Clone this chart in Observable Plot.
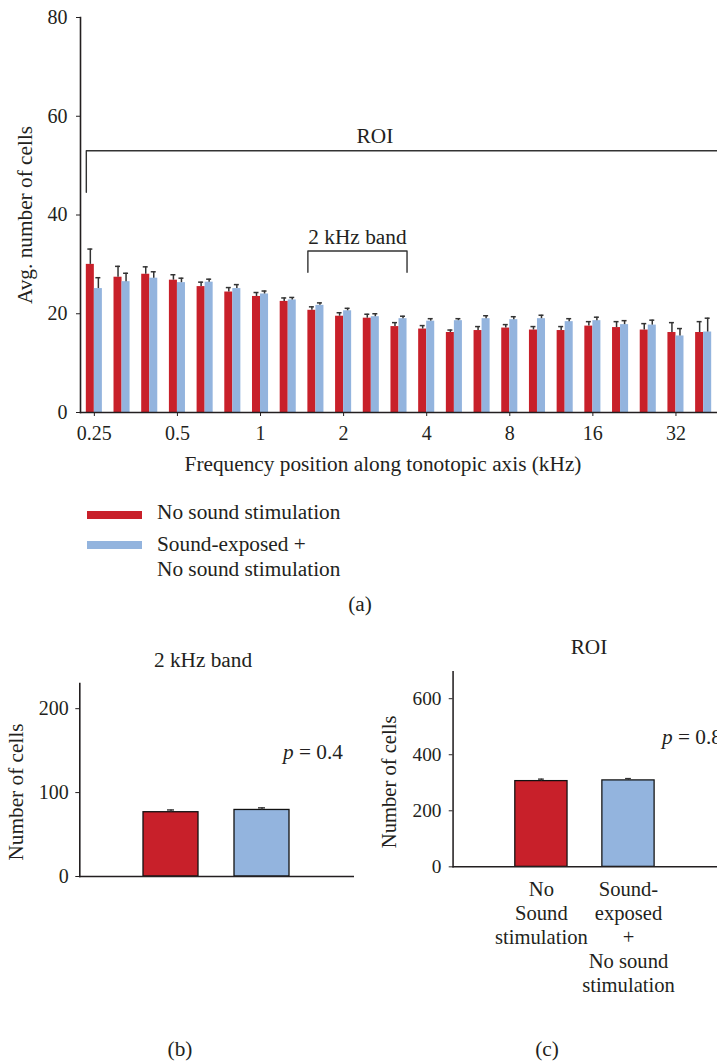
<!DOCTYPE html>
<html><head><meta charset="utf-8">
<script src="https://cdn.jsdelivr.net/npm/d3@7"></script>
<script src="https://cdn.jsdelivr.net/npm/@observablehq/plot@0.6"></script>
<style>
html,body{margin:0;padding:0;overflow:hidden;background:#fff;}
body{width:717px;height:1064px;position:relative;font-family:"Liberation Serif",serif;color:#231f20;}
.t{position:absolute;white-space:nowrap;line-height:1;font-size:21.3px;}
.c{transform:translate(-50%,-50%);}
.l{transform:translate(0,-50%);}
.panel{position:absolute;}
.sw{position:absolute;width:55px;height:8px;transform:translate(0,-50%);}
</style></head><body>
<div id="a" class="panel" style="left:0;top:0"></div>
<div id="b" class="panel" style="left:0;top:640px"></div>
<div id="c" class="panel" style="left:360px;top:630px"></div>
<script>
// ---------- data ----------
const seriesNames = ["No sound stimulation", "Sound-exposed + No sound stimulation"];
const seriesColors = ["#c8202a", "#93b4de"];
// panel (a): 23 positions along the tonotopic axis
const redMean = [30.0,27.4,28.0,26.8,25.5,24.4,23.5,22.5,20.7,19.5,19.1,17.4,16.9,16.2,16.6,17.1,16.7,16.6,17.5,17.2,16.7,16.2,16.2];
const redErr  = [3.1,2.2,1.5,1.1,0.9,0.9,0.8,0.7,0.7,0.7,0.8,0.8,0.7,0.5,0.8,0.7,0.7,0.8,0.9,1.2,1.3,2.0,2.2];
const blueMean = [25.1,26.5,27.2,26.3,26.4,25.1,24.0,22.8,21.7,20.6,19.4,19.0,18.5,18.6,19.0,18.8,19.0,18.4,18.6,17.8,17.7,15.5,16.3];
const blueErr  = [2.2,1.7,1.3,0.9,0.6,0.8,0.6,0.5,0.5,0.5,0.6,0.5,0.5,0.4,0.6,0.6,0.7,0.6,0.7,0.8,1.0,1.5,2.8];
const freqTickIndex = [0,3,6,9,12,15,18,21];
const freqTickLabels = ["0.25","0.5","1","2","4","8","16","32"];
const yTicksA = [0,20,40,60,80];
// brackets (data coordinates: position index, cell count)
const roiBracket = [{x:-0.29,y:44.6},{x:-0.29,y:53},{x:22.5,y:53}];
const bandBracket = [{x:7.71,y:28.4},{x:7.71,y:32.7},{x:11.29,y:32.7},{x:11.29,y:28.4}];
const bracketLabels = [{x:10.13,y:55.9,t:"ROI"},{x:9.5,y:35.5,t:"2 kHz band"}];
// panel (b): 2 kHz band totals
const bandMeans = [76.6, 79.3];
const bandErrs = [2.7, 2.5];
const yTicksB = [0,100,200];
// panel (c): ROI totals
const roiMeans = [306, 308.5];
const roiErrs = [7, 6.5];
const yTicksC = [0,200,400,600];
const groupTickLabels = ["No\nSound\nstimulation", "Sound-\nexposed\n+\nNo sound\nstimulation"];

const INK = "#231f20";
const FONT = "Liberation Serif";
const TXT = 21.3;
const BW = 0.29;   // bar width in position units
const CAP = 0.09;  // error cap half-width

const rowsA = [];
redMean.forEach((v,i)=>rowsA.push({i, s: seriesNames[0], v, e: redErr[i], side:-1}));
blueMean.forEach((v,i)=>rowsA.push({i, s: seriesNames[1], v, e: blueErr[i], side:1}));
const cx = d => d.i + d.side*BW/2;

const plotA = Plot.plot({
  width: 717, height: 450,
  marginLeft: 80, marginRight: 0, marginTop: 17, marginBottom: 38,
  style: {fontFamily: FONT, fontSize: "20px", color: INK, background: "transparent"},
  x: {type: "linear", domain: [-0.5, 22.5]},
  y: {domain: [0, 80]},
  color: {domain: seriesNames, range: seriesColors},
  marks: [
    Plot.rect(rowsA, {x1: d => d.side<0 ? d.i-BW : d.i, x2: d => d.side<0 ? d.i : d.i+BW, y1: () => 0, y2: "v", fill: "s"}),
    Plot.ruleX(rowsA, {x: cx, y1: "v", y2: d => d.v+d.e, stroke: "#333", strokeWidth: 1.5}),
    Plot.ruleY(rowsA, {y: d => d.v+d.e, x1: d => cx(d)-CAP, x2: d => cx(d)+CAP, stroke: "#333", strokeWidth: 1.5}),
    Plot.line(roiBracket, {x: "x", y: "y", stroke: "#333", strokeWidth: 1.4}),
    Plot.line(bandBracket, {x: "x", y: "y", stroke: "#333", strokeWidth: 1.4}),
    Plot.text(bracketLabels, {x: "x", y: "y", text: "t", fontSize: TXT, fill: INK}),
    Plot.axisY({ticks: yTicksA, tickSize: 4, tickPadding: 9, label: null, stroke: INK}),
    Plot.axisX({ticks: freqTickIndex, tickFormat: i => freqTickLabels[freqTickIndex.indexOf(i)], tickSize: 4, tickPadding: 9, label: null, stroke: INK}),
    Plot.frame({anchor: "left", stroke: INK, strokeWidth: 1.6}),
    Plot.frame({anchor: "bottom", stroke: INK, strokeWidth: 1.6}),
    Plot.text(["Avg. number of cells"], {text: d => d, frameAnchor: "left", textAnchor: "middle", rotate: -90, dx: -55, fontSize: TXT, fill: INK})
  ]
});
document.getElementById("a").append(plotA);

function smallPlot(means, errs, ticks, ymax, opts) {
  const rows = means.map((v,k)=>({g: seriesNames[k], v, e: errs[k]}));
  return Plot.plot({
    width: opts.width, height: opts.height,
    marginLeft: opts.ml, marginRight: opts.mr, marginTop: opts.mt, marginBottom: opts.mb,
    style: {fontFamily: FONT, fontSize: "20px", color: INK, background: "transparent"},
    x: {domain: seriesNames, paddingInner: 0.396, paddingOuter: 0.70},
    y: {domain: [0, ymax]},
    color: {domain: seriesNames, range: seriesColors},
    marks: [
      Plot.barY(rows, {x: "g", y: "v", fill: "g", stroke: "#111", strokeWidth: 1.3}),
      Plot.ruleX(rows, {x: "g", y1: "v", y2: d => d.v+d.e, stroke: "#333", strokeWidth: 1.4}),
      Plot.tickY(rows, {x: "g", y: d => d.v+d.e, insetLeft: 24, insetRight: 24, stroke: "#333", strokeWidth: 1.4}),
      Plot.axisY({ticks, tickSize: 4, tickPadding: opts.tp, label: null, stroke: INK}),
      opts.xlabels ? Plot.axisX({tickSize: 0, tickPadding: 12, tickFormat: d => groupTickLabels[seriesNames.indexOf(d)], lineHeight: 1.17, fontSize: TXT, label: null, fill: INK}) : Plot.axisX({ticks: [], label: null}),
      Plot.frame({anchor: "left", stroke: INK, strokeWidth: 1.6}),
      Plot.frame({anchor: "bottom", stroke: INK, strokeWidth: 1.6}),
      Plot.text(["Number of cells"], {text: d => d, frameAnchor: "left", textAnchor: "middle", rotate: -90, dx: opts.ydx, dy: opts.ydy, fontSize: TXT, fill: INK})
    ]
  });
}
document.getElementById("b").append(smallPlot(bandMeans, bandErrs, yTicksB, 230,
  {width: 360, height: 260, ml: 79.3, mr: 7.3, mt: 43, mb: 24, tp: 7, xlabels: false, ydx: -64, ydy: 12}));
document.getElementById("c").append(smallPlot(roiMeans, roiErrs, yTicksC, 696,
  {width: 369, height: 390, ml: 95.7, mr: 0, mt: 42.7, mb: 145.7, tp: 8, xlabels: true, ydx: -66, ydy: 13}));

// ---------- html text: titles, legend, captions ----------
function put(html, x, y, cls) {
  const d = document.createElement("div");
  d.className = "t " + cls;
  d.style.left = x + "px"; d.style.top = y + "px";
  d.innerHTML = html;
  document.body.append(d);
}
function swatch(color, x, y) {
  const d = document.createElement("div");
  d.className = "sw"; d.style.background = color;
  d.style.left = x + "px"; d.style.top = y + "px";
  document.body.append(d);
}
put("Frequency position along tonotopic axis (kHz)", 383, 465, "c");
swatch(seriesColors[0], 87, 515);
put("No sound stimulation", 157, 513, "l");
swatch(seriesColors[1], 87, 545);
put("Sound-exposed +", 157, 545, "l");
put("No sound stimulation", 157, 570, "l");
put("(a)", 360, 605, "c");
put("2 kHz band", 203, 661, "c");
put("ROI", 589, 648, "c");
put("<i>p</i> = 0.4", 283, 753, "l");
put("<i>p</i> = 0.8", 662, 738, "l");
put("(b)", 180, 1050, "c");
put("(c)", 547, 1050, "c");
</script>
</body></html>
